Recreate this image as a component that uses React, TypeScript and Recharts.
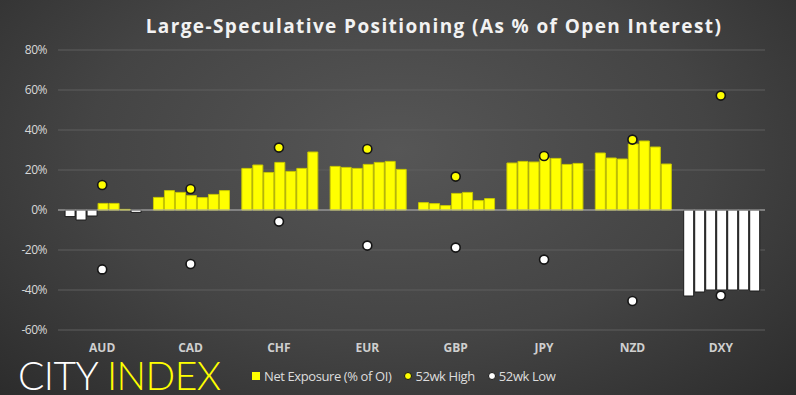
import {
  ComposedChart, Bar, Line, Cell, XAxis, YAxis, CartesianGrid, ReferenceLine,
} from "recharts";

const currencies = ["AUD", "CAD", "CHF", "EUR", "GBP", "JPY", "NZD", "DXY"];

// net exposure (% of OI), 7 weekly readings per currency
const weeks: number[][] = [
  [-3.3, -5, -3, 3.3, 3.3, 0.3, -1.2],
  [6.3, 9.7, 8.8, 7.2, 6.2, 7.8, 9.7],
  [20.8, 22.5, 18.8, 23.8, 19.3, 20.8, 29],
  [21.8, 21.3, 20.8, 22.8, 23.8, 24.3, 20.3],
  [3.7, 3.2, 2.2, 8.3, 8.8, 4.7, 5.7],
  [23.5, 24.3, 24, 26, 25.8, 22.8, 23.3],
  [28.5, 26, 25.5, 33, 34.5, 31.5, 23],
  [-43, -41, -40, -40, -40, -40, -40.5],
];

const high52 = [12.5, 10.5, 31.2, 30.5, 16.7, 27, 35.2, 57.2];
const low52 = [-29.7, -27, -5.8, -17.8, -18.8, -24.8, -45.5, -42.8];

const yTicks = [-60, -40, -20, 0, 20, 40, 60, 80];
const weekKeys = ["w1", "w2", "w3", "w4", "w5", "w6", "w7"];

const data = currencies.map((c, i) => {
  const row: Record<string, number | string> = { name: c, high: high52[i], low: low52[i] };
  weekKeys.forEach((k, j) => { row[k] = weeks[i][j]; });
  return row;
});

const YELLOW = "#ffff00";

function Dot(fill: string) {
  return (props: any) => {
    const { cx, cy, index } = props;
    if (cx == null || cy == null) return <g key={index} />;
    return <circle key={index} cx={cx} cy={cy} r={4.5} fill={fill} stroke="#151515" strokeWidth={1.6} />;
  };
}

function LegendBox() {
  const dot = (fill: string) => (
    <span style={{
      display: "inline-block", width: 6, height: 6, borderRadius: "50%", background: fill,
      border: "1.5px solid #151515", marginRight: 3,
    }} />
  );
  return (
    <div style={{
      position: "absolute", left: 252, top: 367, display: "flex", alignItems: "center",
      whiteSpace: "nowrap", fontFamily: "Open Sans", fontSize: 13, color: "#dddddd", letterSpacing: -0.4,
    }}>
      <span style={{ display: "inline-block", width: 8, height: 8, background: YELLOW, marginRight: 4 }} />
      <span style={{ marginRight: 13 }}>Net Exposure (% of OI)</span>
      {dot(YELLOW)}
      <span style={{ marginRight: 13 }}>52wk High</span>
      {dot("#ffffff")}
      <span>52wk Low</span>
    </div>
  );
}

export default function App() {
  return (
    <div style={{
      position: "absolute", left: 0, top: 0, width: 796, height: 395, overflow: "hidden",
      background: "radial-gradient(ellipse at 50% 38%, #565656 0%, #444444 55%, #2c2c2c 100%)",
    }}>
      <div style={{
        position: "absolute", top: 13, left: 0, width: 868, textAlign: "center",
        fontFamily: "Open Sans", fontWeight: 700, fontSize: 19, color: "#f2f2f2", letterSpacing: 1.4,
      }}>
        Large-Speculative Positioning (As % of Open Interest)
      </div>
      <ComposedChart
        width={796}
        height={395}
        data={data}
        margin={{ top: 50, right: 31, bottom: 35, left: 8 }}
        barCategoryGap="8%"
        barGap={1}
      >
        <CartesianGrid vertical={false} stroke="#5e5e5e" />
        <XAxis
          dataKey="name"
          axisLine={false}
          tickLine={false}
          tickMargin={7}
          tick={{ fill: "#cfcfcf", fontSize: 12, fontWeight: 700, fontFamily: "Open Sans" }}
        />
        <YAxis
          width={50}
          domain={[-60, 80]}
          ticks={yTicks}
          axisLine={false}
          tickLine={false}
          tickMargin={5}
          tickFormatter={(v) => `${v}%`}
          tick={{ fill: "#d8d8d8", fontSize: 12, fontFamily: "Open Sans", letterSpacing: -0.5 }}
        />
        <ReferenceLine y={0} stroke="#b0b0b0" strokeWidth={1} />
        {weekKeys.map((k, j) => (
          <Bar key={k} dataKey={k} isAnimationActive={false}>
            {weeks.map((vals, i) => (
              <Cell
                key={i}
                fill={vals[j] >= 0 ? YELLOW : "#ffffff"}
                stroke={vals[j] >= 0 ? "#c8c800" : "#1a1a1a"}
                strokeWidth={1}
              />
            ))}
          </Bar>
        ))}
        <Line dataKey="high" stroke="none" isAnimationActive={false} dot={Dot(YELLOW)} activeDot={false} />
        <Line dataKey="low" stroke="none" isAnimationActive={false} dot={Dot("#ffffff")} activeDot={false} />
      </ComposedChart>
      <LegendBox />
      <div style={{
        position: "absolute", left: 18, top: 357, fontFamily: "Lato", fontWeight: 300,
        fontSize: 39, letterSpacing: -0.5, whiteSpace: "nowrap", lineHeight: "36px",
      }}>
        <span style={{ color: "#ffffff" }}>CITY </span>
        <span style={{ color: YELLOW }}>INDEX</span>
      </div>
    </div>
  );
}
